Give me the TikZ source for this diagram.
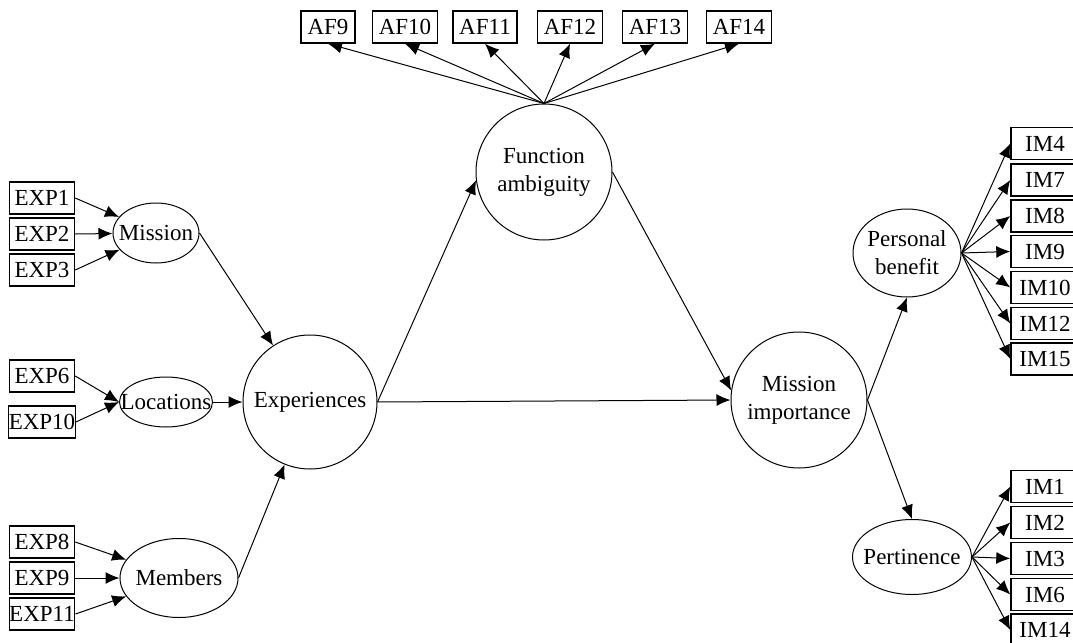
\documentclass[tikz,border=0pt]{standalone}
\usepackage{fontspec}
\setmainfont{Liberation Serif}
\usetikzlibrary{arrows.meta}
\usetikzlibrary{shapes.geometric}

\tikzset{
  item/.style={draw, line width=0.7pt, rectangle, minimum height=16pt, inner xsep=3.2pt, inner ysep=0pt},
  latent/.style={draw, line width=0.5pt, ellipse, inner xsep=-12pt, inner ysep=-5pt, align=center},
  path/.style={-{Latex[length=7pt,width=6pt]}, line width=0.5pt},
}

\begin{document}
\begin{tikzpicture}[x=0.5pt, y=-0.5pt, font=\fontsize{11.5}{14}\selectfont]
\useasboundingbox (0,0) rectangle (1073,643);

% observed items
\foreach \n/\y in {EXP1/198, EXP2/234, EXP3/270, EXP6/376, EXP10/422, EXP8/542, EXP9/578, EXP11/614}
  \node[item, minimum width=32.5pt, inner xsep=0pt] (\n) at (42,\y) {\n};
\foreach \n/\x in {AF9/328, AF10/405, AF11/485, AF12/570, AF13/655, AF14/739}
  \node[item] (\n) at (\x,27) {\n};
\foreach \n/\y in {IM4/143.5, IM7/180, IM8/216, IM9/251.5, IM10/287.5, IM12/323.5, IM15/359, IM1/486.5, IM2/522.5, IM3/558.5, IM6/594.5, IM14/630}
  \node[item, minimum width=34pt] (\n) at (1045,\y) {\n};

% latent variables
\node[latent, minimum width=43pt, minimum height=30pt] (mission) at (156,233) {Mission};
\node[latent, minimum width=46.5pt, minimum height=25pt] (locations) at (166,402) {Locations};
\node[latent, minimum width=59pt, minimum height=39.5pt] (members) at (179,578) {Members};
\node[latent, minimum width=67pt, minimum height=67pt] (exp) at (310,402) {Experiences};
\node[latent, minimum width=68pt, minimum height=68pt] (fa) at (544,172) {Function\\ambiguity};
\node[latent, minimum width=68pt, minimum height=68pt] (mi) at (799,400) {Mission\\importance};
\node[latent, minimum width=54pt, minimum height=44pt] (pb) at (907,253) {Personal\\benefit};
\node[latent, minimum width=59.5pt, minimum height=37.5pt] (pert) at (912,557) {Pertinence};

% paths
\foreach \n in {EXP1,EXP2,EXP3}
  \draw[path] (\n.east) -- (mission);
\foreach \n in {EXP6,EXP10}
  \draw[path] (\n.east) -- (locations.west);
\foreach \n in {EXP8,EXP9,EXP11}
  \draw[path] (\n.east) -- (members);

\draw[path] (mission.east) -- (exp);
\draw[path] (locations) -- (exp);
\draw[path] (members.east) -- (exp);
\draw[path] (exp.east) -- (fa.187);
\draw[path] (exp.east) -- (mi.west);
\draw[path] (fa.east) -- (mi.172);
\draw[path] (mi.east) -- (pb.south);
\draw[path] (mi.east) -- (pert.north);

\foreach \n in {AF9,AF10,AF11,AF12,AF13,AF14}
  \draw[path] (fa.north) -- (\n.south);
\foreach \n in {IM4,IM7,IM8,IM9,IM10,IM12,IM15}
  \draw[path] (pb.east) -- (\n.west);
\foreach \n in {IM1,IM2,IM3,IM6,IM14}
  \draw[path] (pert.east) -- (\n.west);
\end{tikzpicture}
\end{document}
